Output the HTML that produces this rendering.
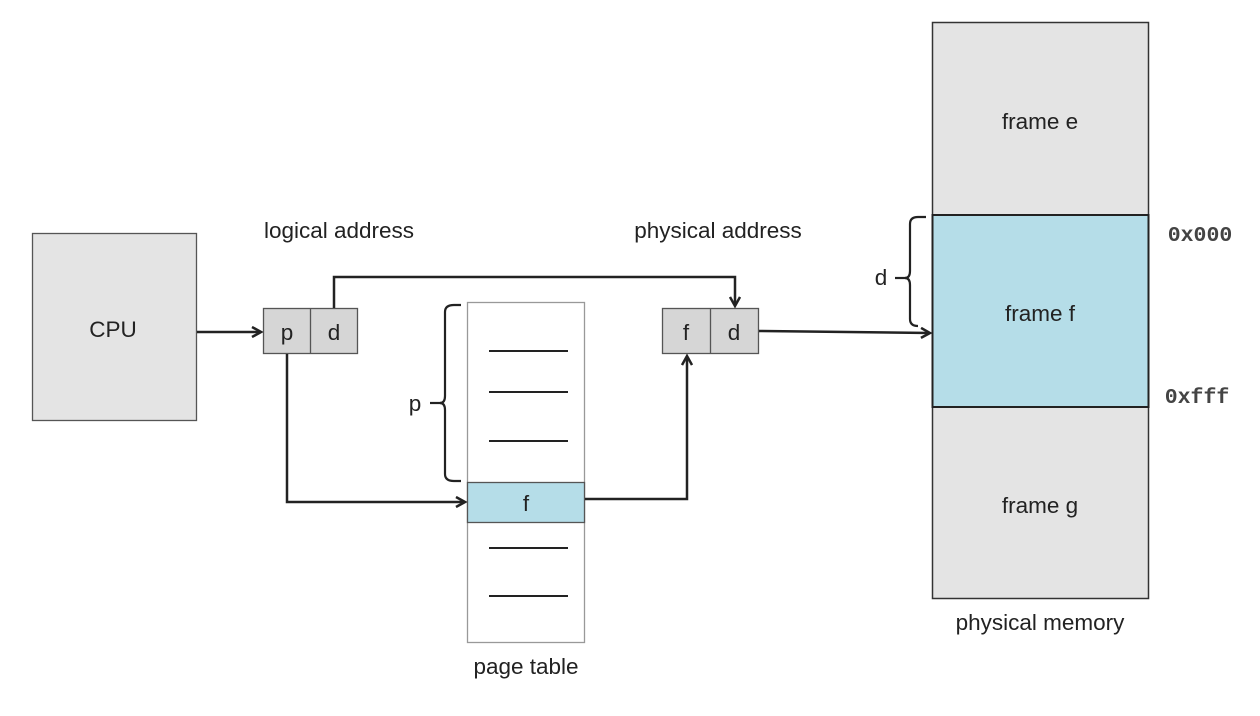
<!DOCTYPE html>
<html><head><meta charset="utf-8"><style>
html,body{margin:0;padding:0;background:#fff}
svg{display:block}
text{font-family:"Liberation Sans",sans-serif;fill:#222}
.m{font-family:"Liberation Mono",monospace;font-weight:bold;fill:#444}
</style></head><body>
<svg width="1260" height="716" viewBox="0 0 1260 716" xmlns="http://www.w3.org/2000/svg">
<defs><marker id="a" markerWidth="12" markerHeight="12" refX="10" refY="6" orient="auto" markerUnits="userSpaceOnUse"><path d="M1,1 L10,6 L1,11" fill="none" stroke="#222" stroke-width="2.5"/></marker></defs>
<rect x="32.5" y="233.5" width="164" height="187" fill="#e4e4e4" stroke="#555" stroke-width="1.3"/>
<text x="113" y="337" font-size="22.5" text-anchor="middle">CPU</text>
<text x="339" y="238" font-size="22.5" text-anchor="middle">logical address</text>
<rect x="263.5" y="308.5" width="94" height="45" fill="#d6d6d6" stroke="#555" stroke-width="1.3"/>
<line x1="310.5" y1="308" x2="310.5" y2="354" stroke="#555" stroke-width="1.3"/>
<text x="287" y="340" font-size="22.5" text-anchor="middle">p</text>
<text x="334" y="340" font-size="22.5" text-anchor="middle">d</text>
<text x="718" y="238" font-size="22.5" text-anchor="middle">physical address</text>
<rect x="662.5" y="308.5" width="96" height="45" fill="#d6d6d6" stroke="#555" stroke-width="1.3"/>
<line x1="710.5" y1="308" x2="710.5" y2="354" stroke="#555" stroke-width="1.3"/>
<text x="686" y="340" font-size="22.5" text-anchor="middle">f</text>
<text x="734" y="340" font-size="22.5" text-anchor="middle">d</text>
<rect x="467.5" y="302.5" width="117" height="340" fill="#fff" stroke="#999" stroke-width="1.3"/>
<rect x="467.5" y="482.5" width="117" height="40" fill="#b5dde8" stroke="#555" stroke-width="1.3"/>
<text x="526" y="511" font-size="22.5" text-anchor="middle">f</text>
<g stroke="#222" stroke-width="2">
<line x1="489" y1="351" x2="568" y2="351"/><line x1="489" y1="392" x2="568" y2="392"/><line x1="489" y1="441" x2="568" y2="441"/>
<line x1="489" y1="548" x2="568" y2="548"/><line x1="489" y1="596" x2="568" y2="596"/>
</g>
<text x="526" y="674" font-size="22.5" text-anchor="middle">page table</text>
<path d="M461,305 H454 Q445,305 445,312 V396 Q445,403 440,403 Q445,403 445,410 V474 Q445,481 454,481 H461" fill="none" stroke="#222" stroke-width="2.2"/>
<line x1="430" y1="403" x2="441" y2="403" stroke="#222" stroke-width="2.2"/>
<text x="415" y="411" font-size="22.5" text-anchor="middle">p</text>
<rect x="932.5" y="22.5" width="216" height="576" fill="#e4e4e4" stroke="#333" stroke-width="1.5"/>
<rect x="932.5" y="215" width="216" height="192" fill="#b5dde8" stroke="#222" stroke-width="2"/>
<text x="1040" y="129" font-size="22.5" text-anchor="middle">frame e</text>
<text x="1040" y="321" font-size="22.5" text-anchor="middle">frame f</text>
<text x="1040" y="513" font-size="22.5" text-anchor="middle">frame g</text>
<text x="1040" y="630" font-size="22.5" text-anchor="middle">physical memory</text>
<text x="1200" y="241" font-size="21.5" class="m" text-anchor="middle">0x000</text>
<text x="1197" y="403" font-size="21.5" class="m" text-anchor="middle">0xfff</text>
<path d="M926,217 H918 Q910,217 910,224 V271 Q910,278 905,278 Q910,278 910,285 V319 Q910,326 918,326" fill="none" stroke="#222" stroke-width="2.2"/>
<line x1="895" y1="278" x2="906" y2="278" stroke="#222" stroke-width="2.2"/>
<text x="881" y="285" font-size="22.5" text-anchor="middle">d</text>
<g fill="none" stroke="#222" stroke-width="2.5">
<line x1="197" y1="332" x2="261" y2="332" marker-end="url(#a)"/>
<path d="M334,308 V277 H735 V306" marker-end="url(#a)"/>
<path d="M287,354 V502 H465" marker-end="url(#a)"/>
<path d="M585,499 H687 V356" marker-end="url(#a)"/>
<path d="M759,331 L930,333" marker-end="url(#a)"/>
</g>
</svg>
</body></html>
